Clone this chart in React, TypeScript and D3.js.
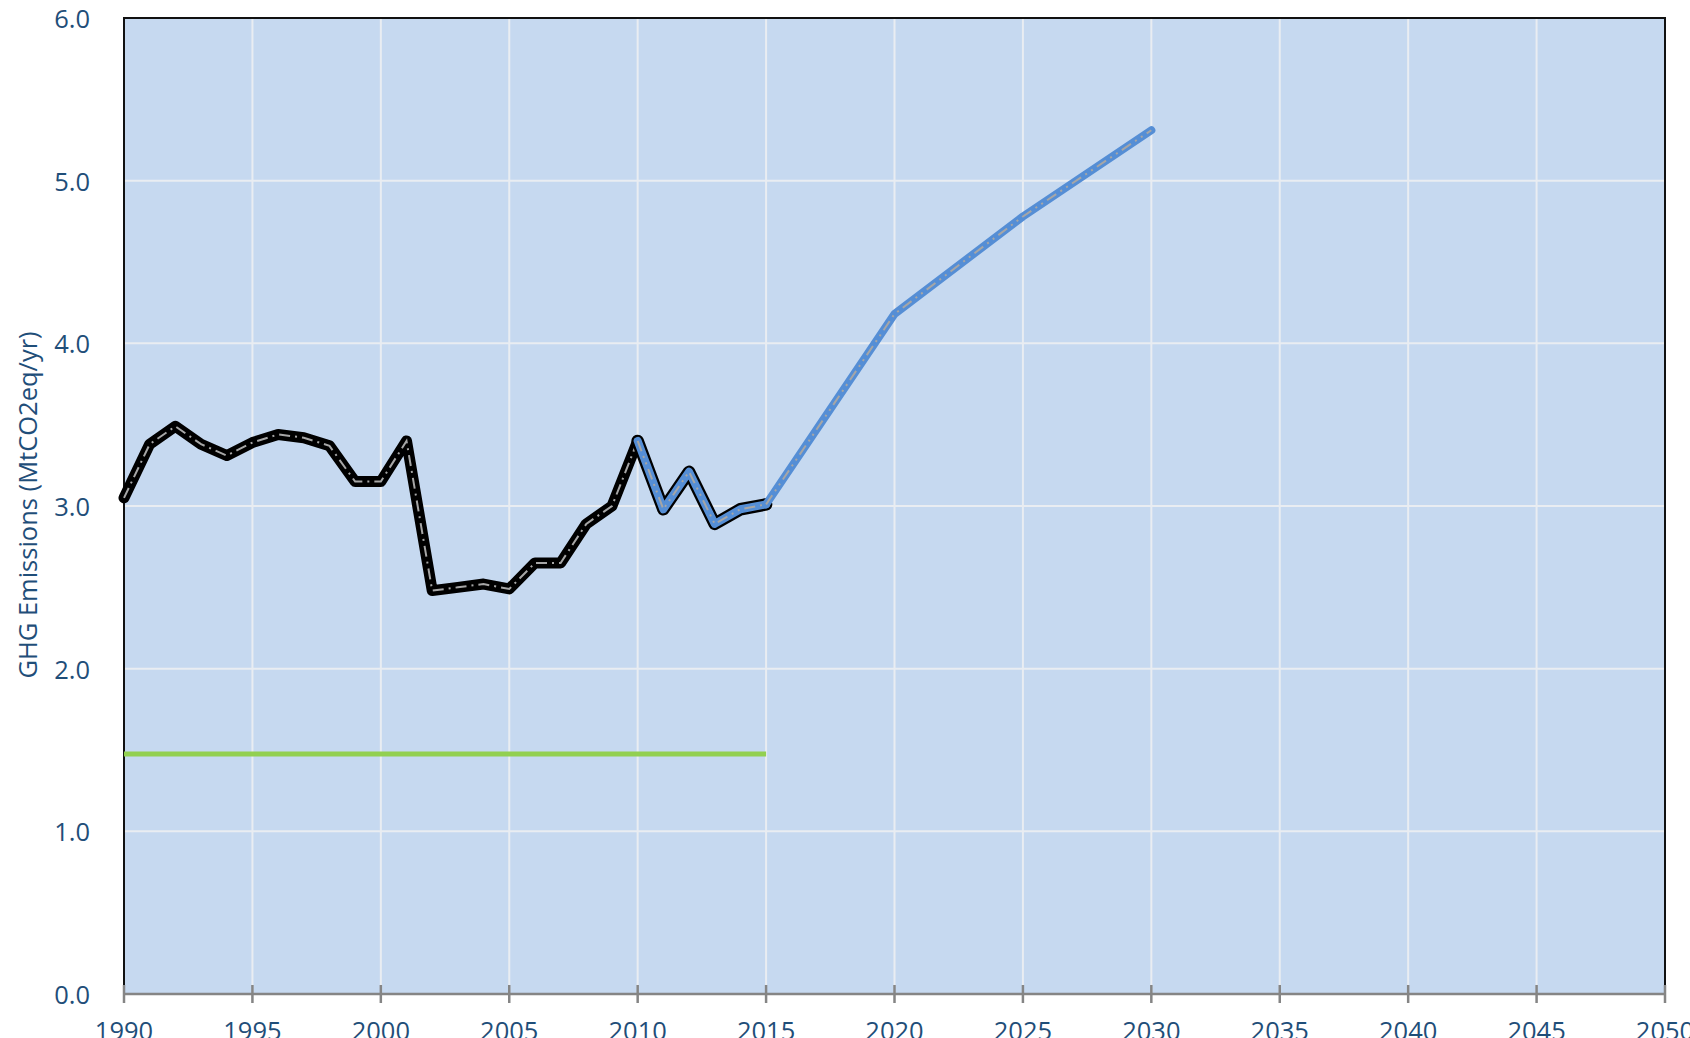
import React, { useEffect } from "react";
import * as d3 from "d3";

// historical emissions (MtCO2eq/yr)
const histYears = [1990, 1991, 1992, 1993, 1994, 1995, 1996, 1997, 1998, 1999, 2000, 2001, 2002, 2003, 2004, 2005, 2006, 2007, 2008, 2009, 2010];
const histValues = [3.05, 3.38, 3.49, 3.38, 3.31, 3.39, 3.44, 3.42, 3.37, 3.15, 3.15, 3.4, 2.48, 2.5, 2.52, 2.49, 2.65, 2.65, 2.89, 3.0, 3.4];

// recent values (blue with black outline)
const recentYears = [2010, 2011, 2012, 2013, 2014, 2015];
const recentValues = [3.4, 2.98, 3.21, 2.89, 2.98, 3.01];

// projection
const projYears = [2015, 2020, 2025, 2030];
const projValues = [3.01, 4.18, 4.78, 5.31];

// target line
const targetYears = [1990, 2015];
const targetValues = [1.475, 1.475];

const xTicks = [1990, 1995, 2000, 2005, 2010, 2015, 2020, 2025, 2030, 2035, 2040, 2045, 2050];
const yTicks = [0, 1, 2, 3, 4, 5, 6];

const W = 1690;
const H = 1038;
const left = 124;
const right = 1665;
const top = 18;
const bottom = 994;

const textColor = "#1f4e79";
const font = "'Open Sans', sans-serif";

const App = () => {
  useEffect(() => {
    document.body.style.margin = "0";
    document.body.style.overflow = "hidden";
  }, []);

  const x = d3.scaleLinear().domain([1990, 2050]).range([left, right]);
  const y = d3.scaleLinear().domain([0, 6]).range([bottom, top]);

  const line = d3
    .line<[number, number]>()
    .x(d => x(d[0]))
    .y(d => y(d[1]));

  const zip = (a: number[], b: number[]) => a.map((v, i) => [v, b[i]] as [number, number]);

  const histPath = line(zip(histYears, histValues)) || "";
  const recentPath = line(zip(recentYears, recentValues)) || "";
  const projPath = line(zip(projYears, projValues)) || "";
  const targetPath = line(zip(targetYears, targetValues)) || "";

  return (
    <svg width={W} height={H} style={{ position: "absolute", left: 0, top: 0 }}>
      <rect x={left} y={top} width={right - left} height={bottom - top} fill="#c6d9f0" />

      {xTicks.slice(1, -1).map(t => (
        <line key={"gx" + t} x1={x(t)} x2={x(t)} y1={top} y2={bottom} stroke="#e9edf2" strokeWidth={2} />
      ))}
      {yTicks.slice(1, -1).map(t => (
        <line key={"gy" + t} x1={left} x2={right} y1={y(t)} y2={y(t)} stroke="#e9edf2" strokeWidth={2} />
      ))}

      {/* border */}
      <path
        d={`M${left},${bottom}V${top}H${right}V${bottom}`}
        fill="none"
        stroke="#111"
        strokeWidth={2}
      />

      {/* bottom axis */}
      <line x1={left} x2={right} y1={bottom} y2={bottom} stroke="#858585" strokeWidth={2.5} />
      {xTicks.map(t => (
        <line key={"tx" + t} x1={x(t)} x2={x(t)} y1={bottom - 9} y2={bottom + 9} stroke="#858585" strokeWidth={2.5} />
      ))}

      {/* target */}
      <path d={targetPath} fill="none" stroke="#92d050" strokeWidth={5} />

      {/* historical */}
      <path d={histPath} fill="none" stroke="#000" strokeWidth={11} strokeLinejoin="round" strokeLinecap="round" />
      <path d={histPath} fill="none" stroke="#a6a6a6" strokeWidth={2} strokeDasharray="11,5,2,5" />

      {/* recent, outlined */}
      <path d={recentPath} fill="none" stroke="#000" strokeWidth={12.5} strokeLinejoin="round" strokeLinecap="round" />
      <path d={recentPath} fill="none" stroke="#558ed5" strokeWidth={8} strokeLinejoin="round" strokeLinecap="round" />
      <path d={recentPath} fill="none" stroke="#a6a6a6" strokeWidth={2} strokeDasharray="11,5,2,5,2,5" />

      {/* projection */}
      <path d={projPath} fill="none" stroke="#558ed5" strokeWidth={8} strokeLinejoin="round" strokeLinecap="round" />
      <path d={projPath} fill="none" stroke="#a6a6a6" strokeWidth={2} strokeDasharray="11,5,2,5,2,5" />

      {/* y tick labels */}
      {yTicks.map(t => (
        <text
          key={"ly" + t}
          x={90}
          y={y(t)}
          textAnchor="end"
          dominantBaseline="central"
          fill={textColor}
          fontFamily={font}
          fontSize={25.5}
        >
          {d3.format(".1f")(t)}
        </text>
      ))}

      {/* x tick labels */}
      {xTicks.map(t => (
        <text
          key={"lx" + t}
          x={x(t)}
          y={1040}
          textAnchor="middle"
          fill={textColor}
          fontFamily={font}
          fontSize={25.5}
        >
          {t}
        </text>
      ))}

      <text
        transform={`translate(37,${(329 + 681) / 2}) rotate(-90)`}
        textAnchor="middle"
        fill={textColor}
        fontFamily={font}
        fontSize={25.5}
      >
        GHG Emissions (MtCO2eq/yr)
      </text>
    </svg>
  );
};

export default App;
